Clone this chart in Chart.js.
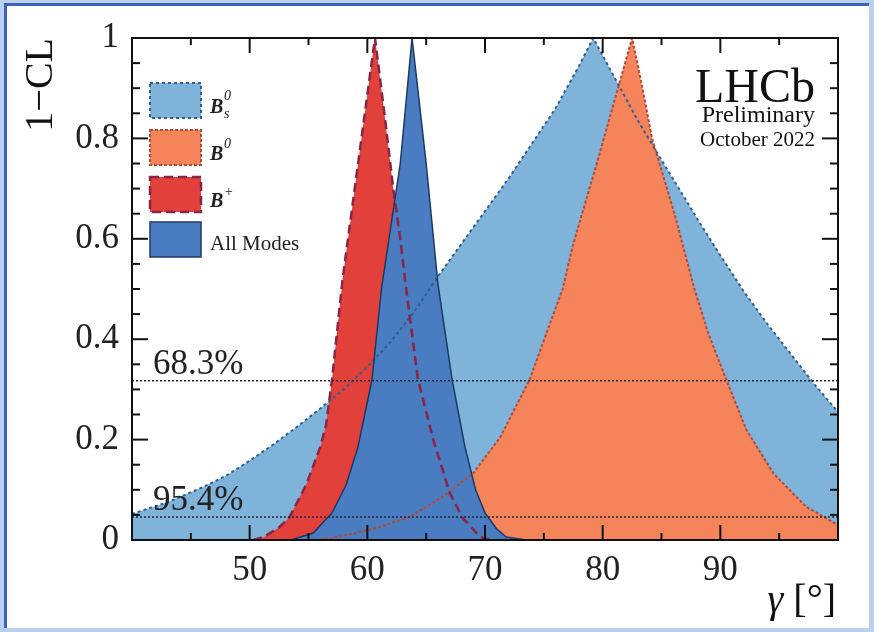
<!DOCTYPE html>
<html>
<head>
<meta charset="utf-8">
<script src="https://cdn.jsdelivr.net/npm/chart.js@4.4.0/dist/chart.umd.min.js"></script>
<style>
  body { margin: 0; width: 874px; height: 632px; background: #b9d0ee; position: relative; overflow: hidden; }
  #frame { position: absolute; left: 4px; top: 3px; right: 5px; bottom: 4px; background: #fff;
           border-top: 3px solid #3b63b5; border-left: 3px solid #3b63b5; }
  #chart { position: absolute; left: 0; top: 0; }
</style>
</head>
<body>
<div id="frame"></div>
<canvas id="chart" width="874" height="632"></canvas>
<script>
// gamma [deg] and 1-CL, one pair of arrays per mode
const gammaBs = [40, 43, 46, 48, 50, 52, 54, 56, 58, 60, 62, 64, 66, 68, 70, 72, 74, 76, 78, 79.2, 80, 81.5, 83, 85, 87, 88.3, 90, 92, 94, 96, 98, 100];
const clBs    = [0.052, 0.075, 0.105, 0.128, 0.158, 0.19, 0.225, 0.262, 0.30, 0.345, 0.395, 0.455, 0.525, 0.59, 0.655, 0.72, 0.79, 0.86, 0.945, 1.0, 0.965, 0.90, 0.835, 0.757, 0.68, 0.63, 0.567, 0.495, 0.43, 0.37, 0.31, 0.255];

const gammaB0 = [55.5, 57, 58.3, 60.8, 63.6, 66.4, 69, 71.3, 73.8, 75.5, 76.6, 77.5, 79.5, 81.3, 82.5, 83.3, 84.2, 86.1, 87.8, 89, 90.5, 92.2, 94.5, 97.3, 100];
const clB0    = [0, 0.004, 0.01, 0.024, 0.046, 0.086, 0.133, 0.205, 0.32, 0.43, 0.50, 0.59, 0.75, 0.90, 1.0, 0.91, 0.80, 0.65, 0.50, 0.41, 0.32, 0.22, 0.133, 0.066, 0.03];

const gammaBp = [50.3, 51.2, 52.5, 53.4, 54.8, 56.0, 56.5, 57.0, 57.9, 59.5, 60.65, 61.5, 62.2, 62.8, 63.3, 64.3, 65.6, 67.0, 68.1, 69.6, 70.5];
const clBp    = [0, 0.006, 0.025, 0.046, 0.11, 0.185, 0.23, 0.32, 0.52, 0.80, 1.0, 0.84, 0.70, 0.60, 0.50, 0.32, 0.20, 0.094, 0.044, 0.006, 0];

const gammaAll = [53.5, 55.4, 57.0, 58.2, 59.2, 60.4, 61.2, 62.8, 63.8, 65.0, 66.0, 67.2, 68.3, 69.2, 70.0, 71.0, 71.8, 73.5];
const clAll    = [0, 0.014, 0.054, 0.11, 0.185, 0.32, 0.50, 0.75, 1.0, 0.75, 0.51, 0.32, 0.185, 0.10, 0.054, 0.022, 0.006, 0];

const xTicks = [50, 60, 70, 80, 90];
const yTicks = [0, 0.2, 0.4, 0.6, 0.8, 1];
const clLevels = [0.317, 0.046];
const clLabels = ['68.3%', '95.4%'];

const serif = '"Liberation Serif", "DejaVu Serif", serif';

function pts(xs, ys) {
  return xs.map((g, i) => ({ x: g, y: ys[i] }));
}

const modes = [
  { label: 'Bs', x: gammaBs, y: clBs, fill: '#7fb3da', line: '#2d5f92', dash: [3, 3], width: 2, order: 5 },
  { label: 'B0', x: gammaB0, y: clB0, fill: '#f5845b', line: '#b24a3a', dash: [3, 2], width: 2, order: 4 },
  { label: 'B+', x: gammaBp, y: clBp, fill: '#e2403a', line: '#8a2448', dash: [9, 5], width: 2.5, order: 3 },
  { label: 'All Modes', x: gammaAll, y: clAll, fill: '#4a7cc1', line: '#1c3964', dash: [], width: 1.5, order: 2 }
];

const datasets = modes.map(m => ({
  label: m.label,
  data: pts(m.x, m.y),
  showLine: true,
  fill: 'origin',
  backgroundColor: m.fill,
  borderColor: m.line,
  borderWidth: m.width,
  borderDash: m.dash,
  pointRadius: 0,
  tension: 0,
  order: m.order
}));

clLevels.forEach(lv => {
  datasets.push({
    label: 'cl' + lv,
    data: [{ x: 40, y: lv }, { x: 100, y: lv }],
    showLine: true,
    fill: false,
    borderColor: '#23263a',
    borderWidth: 1.5,
    borderDash: [2, 2],
    pointRadius: 0,
    order: 1
  });
});

function seg(ctx, x1, y1, x2, y2) {
  ctx.beginPath();
  ctx.moveTo(x1, y1);
  ctx.lineTo(x2, y2);
  ctx.stroke();
}

const decor = {
  id: 'decor',
  afterDatasetsDraw(chart) {
    const { ctx, chartArea: a, scales: { x, y } } = chart;
    ctx.save();
    ctx.strokeStyle = '#111';
    ctx.lineWidth = 2;
    ctx.setLineDash([]);
    ctx.strokeRect(a.left, a.top, a.right - a.left, a.bottom - a.top);

    // inward ticks on all four sides
    for (let v = 40; v <= 100; v += 5) {
      const px = x.getPixelForValue(v);
      const len = v % 10 === 0 ? 15 : 7;
      seg(ctx, px, a.bottom, px, a.bottom - len);
      seg(ctx, px, a.top, px, a.top + len);
    }
    for (let i = 0; i <= 20; i++) {
      const py = y.getPixelForValue(i * 0.05);
      const len = i % 4 === 0 ? 16 : 8;
      seg(ctx, a.left, py, a.left + len, py);
      seg(ctx, a.right, py, a.right - len, py);
    }

    // CL labels
    ctx.fillStyle = '#222';
    ctx.font = '35px ' + serif;
    ctx.textAlign = 'left';
    ctx.textBaseline = 'alphabetic';
    clLevels.forEach((lv, i) => {
      ctx.fillText(clLabels[i], x.getPixelForValue(40) + 21, y.getPixelForValue(lv) - 7);
    });

    // LHCb label
    ctx.textAlign = 'right';
    ctx.fillStyle = '#111';
    ctx.font = '48px ' + serif;
    ctx.fillText('LHCb', 815, 102);
    ctx.font = '24px ' + serif;
    ctx.fillText('Preliminary', 815, 122);
    ctx.font = '21px ' + serif;
    ctx.fillText('October 2022', 815, 146);

    // axis titles
    ctx.font = '40px ' + serif;
    ctx.fillText('[\u00b0]', 836, 612);
    const w = ctx.measureText(' [\u00b0]').width;
    ctx.font = 'italic 40px ' + serif;
    ctx.fillText('\u03b3', 836 - w, 612);
    ctx.font = '40px ' + serif;
    ctx.save();
    ctx.translate(52, 38);
    ctx.rotate(-Math.PI / 2);
    ctx.textAlign = 'right';
    ctx.fillText('1\u2212CL', 0, 0);
    ctx.restore();

    // legend
    const boxTop = [83, 130, 177, 222];
    modes.forEach((m, i) => {
      const bx = 150, by = boxTop[i], bw = 51, bh = 35;
      ctx.fillStyle = m.fill;
      ctx.fillRect(bx, by, bw, bh);
      ctx.strokeStyle = m.line;
      ctx.lineWidth = m.width;
      ctx.setLineDash(m.dash);
      ctx.strokeRect(bx, by, bw, bh);
      ctx.setLineDash([]);
    });
    ctx.fillStyle = '#222';
    ctx.textAlign = 'left';
    ctx.textBaseline = 'alphabetic';
    const tx = 210;
    ctx.font = 'italic bold 20px ' + serif;
    ctx.fillText('B', tx, 113);
    ctx.fillText('B', tx, 160);
    ctx.fillText('B', tx, 207);
    ctx.font = 'italic 14px ' + serif;
    ctx.fillText('0', tx + 14, 100);
    ctx.fillText('s', tx + 14, 118);
    ctx.fillText('0', tx + 14, 148);
    ctx.fillText('+', tx + 14, 196);
    ctx.font = '21px ' + serif;
    ctx.fillText('All Modes', tx, 250);
    ctx.restore();
  }
};

new Chart(document.getElementById('chart'), {
  type: 'scatter',
  data: { datasets },
  options: {
    responsive: false,
    animation: false,
    layout: { padding: { left: 0, right: 36, top: 38, bottom: 0 } },
    plugins: {
      legend: { display: false },
      tooltip: { enabled: false },
      filler: { drawTime: 'beforeDatasetsDraw' }
    },
    scales: {
      x: {
        type: 'linear',
        min: 40,
        max: 100,
        afterBuildTicks: s => { s.ticks = xTicks.map(v => ({ value: v })); },
        afterFit: s => { s.height = 92; },
        grid: { display: false },
        border: { display: false },
        ticks: { padding: 2, color: '#222', font: { family: serif, size: 35 }, maxRotation: 0 }
      },
      y: {
        type: 'linear',
        min: 0,
        max: 1,
        afterBuildTicks: s => { s.ticks = yTicks.map(v => ({ value: v })); },
        afterFit: s => { s.width = 132; },
        grid: { display: false },
        border: { display: false },
        ticks: { padding: 5, color: '#222', font: { family: serif, size: 35 }, callback: v => String(Math.round(v * 10) / 10) }
      }
    }
  },
  plugins: [decor]
});
</script>
</body>
</html>
